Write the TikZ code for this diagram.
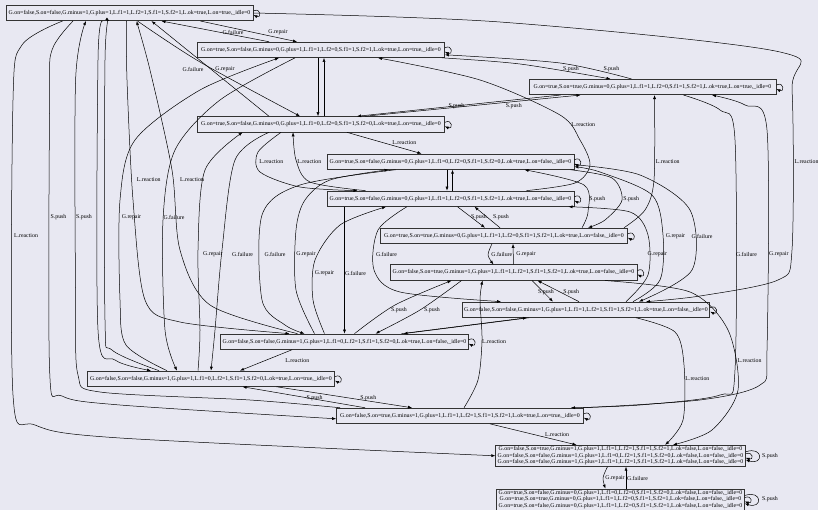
\documentclass[tikz,border=0pt]{standalone}
\usepackage{fontspec}
\setmainfont{Liberation Serif}
\usetikzlibrary{arrows.meta}
\definecolor{bgcol}{RGB}{232,232,242}
\newcommand{\statefont}{\fontsize{5.85}{6.3}\selectfont}
\newcommand{\selfloop}[1]{\draw[arrow] ([yshift=2pt]#1.east) .. controls +(8,4) and +(8,-4) .. ([yshift=-2pt]#1.east);}

\begin{document}
\begin{tikzpicture}[x=1pt,y=1pt,
  state/.style={draw=black!80, line width=0.8pt, minimum width=247pt, minimum height=15.3pt, inner xsep=2pt, inner ysep=1pt, font=\statefont, align=center},
  arrow/.style={-{Latex[length=4pt,width=3pt]}, line width=0.5pt},
  lbl/.style={font=\statefont, inner sep=0.5pt}
]
\fill[bgcol] (0,0) rectangle (818,-510);
\useasboundingbox (0,0) rectangle (818,-510);

\node[state] (s0) at (129.5,-13) {G.on=false,S.on=false,G.minus=1,G.plus=1,L.f1=1,L.f2=1,S.f1=1,S.f2=1,L.ok=true,L.on=true,\_idle=0};
\node[state] (s1) at (321,-49.8) {G.on=true,S.on=false,G.minus=0,G.plus=1,L.f1=1,L.f2=0,S.f1=1,S.f2=1,L.ok=true,L.on=true,\_idle=0};
\node[state] (s2) at (652.5,-87) {G.on=true,S.on=true,G.minus=0,G.plus=1,L.f1=1,L.f2=0,S.f1=1,S.f2=1,L.ok=true,L.on=true,\_idle=0};
\node[state] (s3) at (321,-124.3) {G.on=true,S.on=false,G.minus=0,G.plus=1,L.f1=0,L.f2=0,S.f1=1,S.f2=0,L.ok=true,L.on=true,\_idle=0};
\node[state] (s4) at (450.5,-161.7) {G.on=true,S.on=false,G.minus=0,G.plus=1,L.f1=0,L.f2=0,S.f1=1,S.f2=0,L.ok=true,L.on=false,\_idle=0};
\node[state] (s5) at (450.5,-198.7) {G.on=true,S.on=false,G.minus=0,G.plus=1,L.f1=1,L.f2=0,S.f1=1,S.f2=1,L.ok=true,L.on=false,\_idle=0};
\node[state] (s6) at (504,-235.8) {G.on=true,S.on=true,G.minus=0,G.plus=1,L.f1=1,L.f2=0,S.f1=1,S.f2=1,L.ok=true,L.on=false,\_idle=0};
\node[state] (s7) at (513.5,-272.5) {G.on=false,S.on=true,G.minus=1,G.plus=1,L.f1=1,L.f2=1,S.f1=1,S.f2=1,L.ok=true,L.on=false,\_idle=0};
\node[state] (s8) at (586,-309.7) {G.on=false,S.on=false,G.minus=1,G.plus=1,L.f1=1,L.f2=1,S.f1=1,S.f2=1,L.ok=true,L.on=false,\_idle=0};
\node[state] (s9) at (344.5,-341.7) {G.on=false,S.on=false,G.minus=1,G.plus=1,L.f1=0,L.f2=1,S.f1=1,S.f2=0,L.ok=true,L.on=false,\_idle=0};
\node[state] (s10) at (211,-378.7) {G.on=false,S.on=false,G.minus=1,G.plus=1,L.f1=0,L.f2=1,S.f1=1,S.f2=0,L.ok=true,L.on=true,\_idle=0};
\node[state] (s11) at (460,-415.8) {G.on=false,S.on=true,G.minus=1,G.plus=1,L.f1=1,L.f2=1,S.f1=1,S.f2=1,L.ok=true,L.on=true,\_idle=0};
\node[state, minimum height=21pt] (s12) at (620.5,-455.8) {G.on=false,S.on=true,G.minus=1,G.plus=1,L.f1=1,L.f2=1,S.f1=1,S.f2=1,L.ok=false,L.on=false,\_idle=0\\G.on=false,S.on=false,G.minus=1,G.plus=1,L.f1=0,L.f2=1,S.f1=1,S.f2=0,L.ok=false,L.on=false,\_idle=0\\G.on=false,S.on=false,G.minus=1,G.plus=1,L.f1=1,L.f2=1,S.f1=1,S.f2=1,L.ok=false,L.on=false,\_idle=0};
\node[state, minimum height=21pt] (s13) at (620.5,-499.5) {G.on=true,S.on=false,G.minus=0,G.plus=1,L.f1=0,L.f2=0,S.f1=1,S.f2=0,L.ok=false,L.on=false,\_idle=0\\G.on=true,S.on=true,G.minus=0,G.plus=1,L.f1=1,L.f2=0,S.f1=1,S.f2=1,L.ok=false,L.on=false,\_idle=0\\G.on=true,S.on=false,G.minus=0,G.plus=1,L.f1=1,L.f2=0,S.f1=1,S.f2=1,L.ok=false,L.on=false,\_idle=0};

% self loops
\foreach \s in {s0,s1,s2,s3,s4,s5,s6,s7,s8,s9,s10,s11}{\selfloop{\s}}
\draw[arrow] ([yshift=2pt]s12.east) .. controls +(8,3) and +(8,-3) .. ([yshift=-2pt]s12.east);
\draw[arrow] ([yshift=4pt]s12.east) .. controls +(18,6) and +(18,-6) .. ([yshift=-4pt]s12.east); \node[lbl] (l1) at (770,-456) {S.push};
\draw[arrow] ([yshift=2pt]s13.east) .. controls +(8,3) and +(8,-3) .. ([yshift=-2pt]s13.east);
\draw[arrow] ([yshift=4pt]s13.east) .. controls +(18,6) and +(18,-6) .. ([yshift=-4pt]s13.east); \node[lbl] (l2) at (770,-499) {S.push};

% G.repair / G.failure
\draw[arrow] ([xshift=-52pt]s1.north) -- ([xshift=32pt]s0.south); \node[lbl] (l3) at (233,-32) {G.failure};
\draw[arrow] ([xshift=71pt]s0.south) -- ([xshift=-24pt]s1.north); \node[lbl] (l4) at (278,-32) {G.repair};
\draw[arrow] ([xshift=-52pt]s3.north) -- ([xshift=22pt]s0.south); \node[lbl] (l5) at (193,-69) {G.failure};
\draw[arrow] plot[smooth] coordinates {([xshift=8pt]s0.south) (200,-62) ([xshift=-21pt]s3.north)}; \node[lbl] (l6) at (225,-69) {G.repair};
\draw[arrow] plot[smooth] coordinates {([xshift=-44pt]s10.north) (126,-345) (120,-300) (120,-200) (135,-140) (200,-90) ([xshift=-42pt]s1.south)}; \node[lbl] (l7) at (131.5,-217) {G.repair};
\draw[arrow] plot[smooth] coordinates {([xshift=-26pt]s1.south) (220,-100) (175,-150) (163,-220) (165,-330) ([xshift=-34pt]s10.north)}; \node[lbl] (l8) at (174,-217) {G.failure};
\draw[arrow] plot[smooth] coordinates {([xshift=-13pt]s10.north) (200,-330) (198,-250) (205,-170) ([xshift=-78.4pt]s3.south)}; \node[lbl] (l9) at (212.8,-254) {G.repair};
\draw[arrow] plot[smooth] coordinates {([xshift=-52pt]s3.south) (235,-160) (222,-250) (215,-330) (s10.north)}; \node[lbl] (l10) at (242.6,-254) {G.failure};
\draw[arrow] plot[smooth] coordinates {([xshift=-55pt]s4.south) (300,-185) (262,-215) (262,-300) (285,-325) ([xshift=-40pt]s9.north)}; \node[lbl] (l11) at (275,-254) {G.failure};
\draw[arrow] plot[smooth] coordinates {([xshift=-30pt]s9.north) (296,-290) (296,-230) (305,-200) (330,-180) ([xshift=-62pt]s4.south)}; \node[lbl] (l12) at (306,-254) {G.repair};
\draw[arrow] plot[smooth] coordinates {([xshift=-20pt]s9.north) (313,-300) (315,-260) (340,-225) ([xshift=-64.5pt]s5.south)}; \node[lbl] (l13) at (324.5,-273) {G.repair};
\draw[arrow] ([xshift=-106pt]s5.south) -- (s9.north); \node[lbl] (l14) at (355.5,-273) {G.failure};
\draw[arrow] plot[smooth] coordinates {([xshift=-43.6pt]s5.south) (378,-230) (374,-270) (400,-292) ([xshift=-85pt]s8.north)}; \node[lbl] (l15) at (386.5,-254) {G.failure};
\draw[arrow] plot[smooth] coordinates {([xshift=40pt]s8.north) (648,-275) (648,-235) (630,-212) ([xshift=118pt]s5.south)}; \node[lbl] (l16) at (657.3,-254) {G.repair};
\draw[arrow] plot[smooth] coordinates {([xshift=47pt]s8.north) (660,-280) (663,-235) (652,-195) (600,-172) ([yshift=-5pt]s4.east)}; \node[lbl] (l17) at (675.5,-236) {G.repair};
\draw[arrow] plot[smooth] coordinates {([yshift=-3pt]s4.east) (640,-175) (690,-210) (692,-270) ([xshift=53pt]s8.north)}; \node[lbl] (l18) at (702,-236) {G.failure};
\draw[arrow] plot[smooth] coordinates {([xshift=-12pt]s6.south) (488,-255) ([xshift=-20pt]s7.north)}; \node[lbl] (l19) at (501.8,-254) {G.failure};
\draw[arrow] (s7.north) -- ([xshift=9pt]s6.south); \node[lbl] (l20) at (526,-254) {G.repair};
\draw[arrow] plot[smooth] coordinates {([xshift=31pt]s2.south) (720,-110) (735,-140) (735,-370) (720,-395) (640,-405) ([xshift=111pt]s11.north)}; \node[lbl] (l21) at (746.5,-254) {G.failure};
\draw[arrow] plot[smooth] coordinates {([xshift=123pt]s11.north) (700,-400) (760,-385) (767,-350) (767,-130) (745,-105) ([xshift=59.5pt]s2.south)}; \node[lbl] (l22) at (778.8,-254) {G.repair};
\draw[arrow] plot[smooth] coordinates {([xshift=-13pt]s12.south) (603,-478) ([xshift=-15pt]s13.north)}; \node[lbl] (l23) at (615,-478) {G.repair};
\draw[arrow] ([xshift=5.5pt]s13.north) -- ([xshift=5.5pt]s12.south); \node[lbl] (l24) at (637.5,-478) {G.failure};

% S.push
\draw[arrow] plot[smooth] coordinates {([xshift=121pt]s1.south) (520,-64) ([xshift=-42pt]s2.north)}; \node[lbl] (l25) at (571,-69) {S.push};
\draw[arrow] plot[smooth] coordinates {([xshift=-21pt]s2.north) (560,-63) ([yshift=-5pt]s1.east)}; \node[lbl] (l26) at (611.4,-69) {S.push};
\draw[arrow] ([xshift=44pt]s3.north) -- ([xshift=-72pt]s2.south); \node[lbl] (l27) at (456.4,-106) {S.push};
\draw[arrow] ([xshift=-92pt]s2.south) -- ([xshift=36pt]s3.north); \node[lbl] (l28) at (513.8,-106) {S.push};
\draw[arrow] plot[smooth] coordinates {([xshift=120pt]s4.south) (612,-178) (622,-200) (605,-220) ([xshift=84pt]s6.north)}; \node[lbl] (l29) at (631.2,-199) {S.push};
\draw[arrow] plot[smooth] coordinates {([xshift=78pt]s6.north) (588,-212) (584,-185) ([xshift=74pt]s4.south)}; \node[lbl] (l30) at (597.3,-199) {S.push};
\draw[arrow] ([xshift=7pt]s5.south) -- ([xshift=-19pt]s6.north); \node[lbl] (l31) at (479,-217) {S.push};
\draw[arrow] ([xshift=-4pt]s6.north) -- ([xshift=24pt]s5.south); \node[lbl] (l32) at (501,-217) {S.push};
\draw[arrow] ([xshift=18.5pt]s7.south) -- ([xshift=-33pt]s8.north); \node[lbl] (l33) at (546,-292) {S.push};
\draw[arrow] ([xshift=-7pt]s8.north) -- ([xshift=24pt]s7.south); \node[lbl] (l34) at (571.2,-292) {S.push};
\draw[arrow] plot[smooth] coordinates {([xshift=10pt]s9.north) (395,-305) ([xshift=-62pt]s7.south)}; \node[lbl] (l35) at (399,-310) {S.push};
\draw[arrow] plot[smooth] coordinates {([xshift=-52pt]s7.south) (420,-310) ([xshift=31pt]s9.north)}; \node[lbl] (l36) at (432,-310) {S.push};
\draw[arrow] ([xshift=65.5pt]s10.south) -- ([xshift=-48pt]s11.north); \node[lbl] (l37) at (368.3,-398) {S.push};
\draw[arrow] ([xshift=-95pt]s11.north) -- ([xshift=31.6pt]s10.south); \node[lbl] (l38) at (314.6,-398) {S.push};
\draw[arrow] plot[smooth] coordinates {([xshift=-56.5pt]s0.south) (52,-50) (49.6,-100) (49.6,-370) (62,-396) (120,-405) ([yshift=-3pt]s11.west)}; \node[lbl] (l39) at (58.5,-217) {S.push};
\draw[arrow] plot[smooth] coordinates {([xshift=4pt]s11.north west) (250,-400) (100,-392) (78,-375) (75.6,-300) (75.6,-80) ([xshift=-43.5pt]s0.south)}; \node[lbl] (l40) at (84,-217) {S.push};

% L.reaction
\draw[arrow] plot[smooth] coordinates {(s0.east) (500,-22) (780,-52) (792,-90) (792,-250) (778,-280) (700,-296) ([xshift=60pt]s8.north)}; \node[lbl] (l41) at (806.5,-162) {L.reaction};
\draw[arrow] plot[smooth] coordinates {([xshift=-67pt]s0.south) (22,-45) (13,-100) (13,-395) (35,-425) (120,-438) (s12.west)}; \node[lbl] (l42) at (26,-236) {L.reaction};
\draw[arrow] plot[smooth] coordinates {([xshift=-3pt]s0.south) (127,-80) (133,-200) (145,-300) (180,-322) ([xshift=-55pt]s9.north)}; \node[lbl] (l43) at (148.7,-180) {L.reaction};
\draw[arrow] plot[smooth] coordinates {([xshift=-47pt]s9.north) (210,-305) (180,-250) (172,-170) (150,-70) ([xshift=7pt]s0.south)}; \node[lbl] (l44) at (192,-180) {L.reaction};
\draw[arrow] plot[smooth] coordinates {([xshift=76pt]s5.north) (575,-183) (590,-165) (580,-140) (560,-115) (480,-80) ([xshift=57pt]s1.south)}; \node[lbl] (l45) at (583.2,-125) {L.reaction};
\draw[arrow] plot[smooth] coordinates {([xshift=120pt]s6.north) (645,-210) (654,-180) ([xshift=2pt]s2.south)}; \node[lbl] (l46) at (667.7,-162) {L.reaction};
\draw[arrow] ([xshift=26pt]s3.south) -- ([xshift=-29pt]s4.north); \node[lbl] (l47) at (404.3,-143) {L.reaction};
\draw[arrow] plot[smooth] coordinates {([xshift=-40pt]s3.south) (258,-152) (260,-172) (300,-187) ([xshift=-93pt]s5.north)}; \node[lbl] (l48) at (271.3,-162) {L.reaction};
\draw[arrow] plot[smooth] coordinates {([xshift=-85pt]s5.north) (310,-182) (296,-160) ([xshift=-28pt]s3.south)}; \node[lbl] (l49) at (309.3,-162) {L.reaction};
\draw[arrow] plot[smooth] coordinates {([xshift=4pt]s11.north) (478,-380) (482,-340) (480,-300) ([xshift=-31pt]s7.south)}; \node[lbl] (l50) at (494,-342) {L.reaction};
\draw[arrow] ([xshift=-52.5pt]s9.south) -- ([xshift=29pt]s10.north); \node[lbl] (l51) at (297.3,-361) {L.reaction};
\draw[arrow] ([xshift=30pt]s11.south) -- ([xshift=-44pt]s12.north); \node[lbl] (l52) at (557.1,-435) {L.reaction};
\draw[arrow] plot[smooth] coordinates {([xshift=50pt]s8.south) (675,-332) (684,-365) (683,-420) ([xshift=44.6pt]s12.north)}; \node[lbl] (l53) at (697.4,-379) {L.reaction};
\draw[arrow] plot[smooth] coordinates {([xshift=91.5pt]s7.south) (690,-292) (728,-330) (738,-390) (712,-430) ([xshift=52.5pt]s12.north)}; \node[lbl] (l54) at (749.6,-361) {L.reaction};

% unlabelled transitions
\draw[arrow] ([xshift=-3pt]s1.south) -- ([xshift=-3pt]s3.north);
\draw[arrow] ([xshift=3pt]s3.north) -- ([xshift=3pt]s1.south);
\draw[arrow] ([xshift=-3.5pt]s4.south) -- ([xshift=-3.5pt]s5.north);
\draw[arrow] ([xshift=2pt]s5.north) -- ([xshift=2pt]s4.south);
\draw[arrow] ([xshift=57pt]s9.north) -- ([xshift=-59pt]s8.south);
\draw[arrow] ([xshift=-57pt]s8.south) -- ([xshift=59pt]s9.north);
\draw[arrow] plot[smooth] coordinates {([xshift=-27pt]s0.south) (98,-60) (98,-330) (115,-360) ([xshift=-60pt]s10.north)};
\draw[arrow] plot[smooth] coordinates {([xshift=-52pt]s10.north) (112,-350) (105,-320) (105,-60) ([xshift=-20pt]s0.south)};
\end{tikzpicture}
\end{document}
